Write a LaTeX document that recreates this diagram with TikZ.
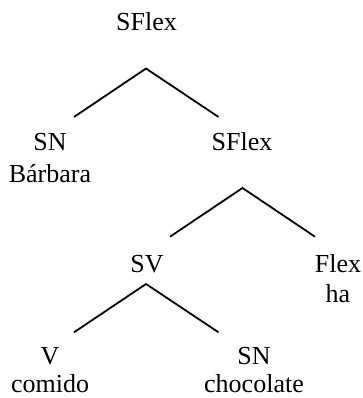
\documentclass[tikz,border=0pt]{standalone}
\usepackage{fontspec}
\setmainfont{Liberation Serif}
\begin{document}
\begin{tikzpicture}[x=1pt,y=-1pt,
  lbl/.style={anchor=base,inner sep=0pt,font=\fontsize{26}{30}\selectfont},
  branch/.style={line width=1.8pt,line join=miter}]
\useasboundingbox (0,0) rectangle (363,398);
% labels
\node[lbl] (root) at (146.5,31) {SFlex};
\node[lbl] (sn1) at (50,150) {SN};
\node[lbl] (barbara) at (50,182) {Bárbara};
\node[lbl] (sflex) at (242,150) {SFlex};
\node[lbl] (sv) at (147,272) {SV};
\node[lbl] (flex) at (338,272) {Flex};
\node[lbl] (ha) at (338,302) {ha};
\node[lbl] (v) at (50,364) {V};
\node[lbl] (comido) at (50,392) {comido};
\node[lbl] (sn2) at (254,364) {SN};
\node[lbl] (choc) at (254,392) {chocolate};
% branch points
\coordinate (a1) at (146,68.5);
\coordinate (l1) at (74,117);
\coordinate (r1) at (218.5,117);
\coordinate (a2) at (242.5,188);
\coordinate (l2) at (170,236.7);
\coordinate (r2) at (315,236.7);
\coordinate (a3) at (146,284);
\coordinate (l3) at (74,332.3);
\coordinate (r3) at (218.5,332.3);
\draw[branch] (l1) -- (a1) -- (r1);
\draw[branch] (l2) -- (a2) -- (r2);
\draw[branch] (l3) -- (a3) -- (r3);
\end{tikzpicture}
\end{document}
